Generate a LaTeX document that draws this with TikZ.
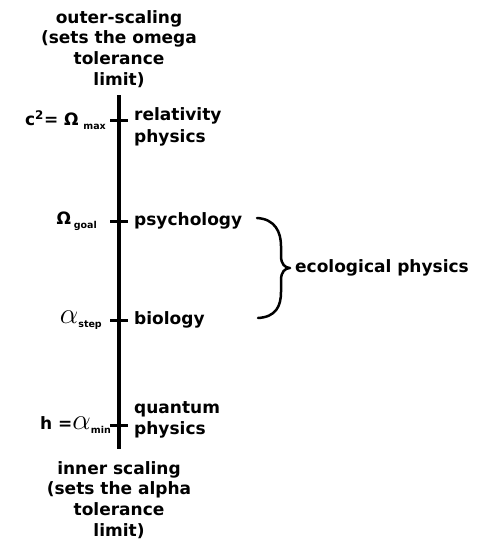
\documentclass[tikz,border=0pt]{standalone}
\usepackage{fontspec}
\setmainfont{DejaVu Sans}
\usetikzlibrary{positioning}
\newcommand{\lowtag}[1]{\raisebox{-0.4ex}{\fontsize{9.5}{9.5}\selectfont\bfseries #1}}
\newcommand{\bigalpha}{\scalebox{1.7}{$\alpha$}}
\tikzset{
  scalepicture/.style={x=1pt, y=-1pt, node distance=15pt},
  scaleaxis/.style={line width=4pt},
  scaletick/.style={line width=3pt},
  scalehead/.style={font=\fontsize{17}{20.8}\selectfont\bfseries, align=center, inner sep=0pt},
  scalelevel/.style={font=\fontsize{17}{21.5}\selectfont\bfseries, align=left, inner sep=0pt},
  scalebrace/.style={line width=2.5pt, line cap=round, line join=round}
}
\begin{document}
\begin{tikzpicture}[scalepicture]
\useasboundingbox (0,0) rectangle (485,544);
% axis and its levels
\coordinate (axtop) at (119,95);
\coordinate (axbot) at (119,449);
\coordinate (rel) at (119,120);
\coordinate (psy) at (119,221);
\coordinate (bio) at (119,320);
\coordinate (qua) at (119,425);
\node[scalehead] (outer) at (119,49) {outer-scaling\\(sets the omega\\tolerance\\limit)};
\node[scalehead] (inner) at (119,500) {inner scaling\\(sets the alpha\\tolerance\\limit)};
\draw[scaleaxis] (axtop) -- (axbot);
\foreach \lv in {rel,psy,bio,qua}
  \draw[scaletick] ([xshift=-9pt]\lv) -- ([xshift=9pt]\lv);
% right side
\node[scalelevel, right=of rel, yshift=-7pt] (relphys) {relativity\\physics};
\node[scalelevel, right=of psy] (psych) {psychology};
\node[scalelevel, right=of bio] (biol) {biology};
\node[scalelevel, right=of qua, yshift=5pt] (quphys) {quantum\\physics};
% left side
\node[scalelevel, left=13pt of rel] (cmax) {c\textsuperscript{2}= Ω\;\lowtag{max}};
\node[scalelevel, left=22pt of psy] (ogoal) {Ω\,\lowtag{goal}};
\node[scalelevel, left=17pt of bio] (astep) {\bigalpha\lowtag{step}};
\node[scalelevel, left=8pt of qua] (hmin) {h =\bigalpha\lowtag{min}};
% brace
\coordinate (bracetop) at (257,218);
\coordinate (bracebot) at (258,318);
\coordinate (bracetip) at (290,268);
\draw[scalebrace] (bracetop) .. controls +(18,1) and +(0,-14) .. (281,246) -- (281,256)
  .. controls +(0,8) and +(-5,0) .. (bracetip)
  .. controls +(-5,0) and +(0,-8) .. (281,280) -- (281,292)
  .. controls +(0,14) and +(18,-1) .. (bracebot);
\node[scalelevel, right=5pt of bracetip] (ecol) {ecological physics};
\end{tikzpicture}
\end{document}
